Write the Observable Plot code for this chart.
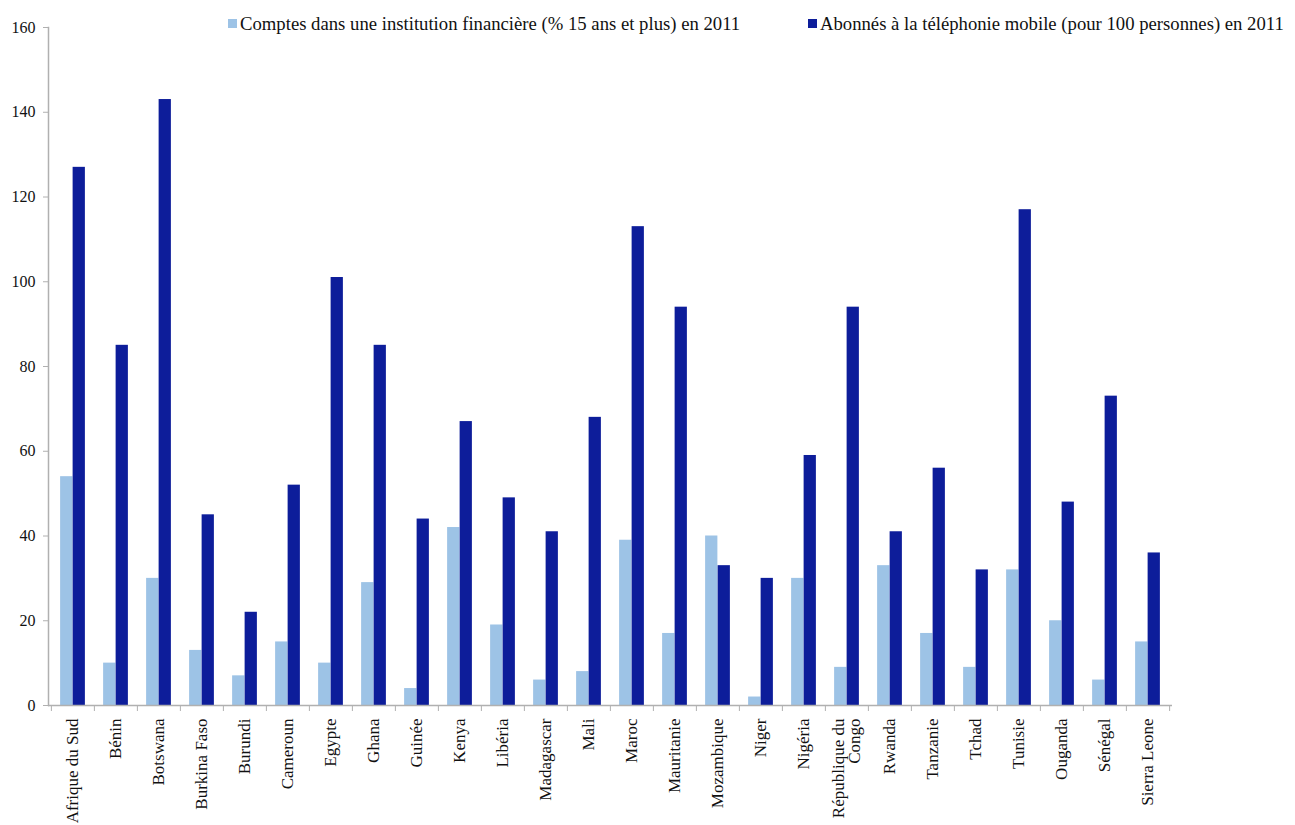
<!DOCTYPE html>
<html><head><meta charset="utf-8">
<script src="https://cdn.jsdelivr.net/npm/d3@7"></script>
<script src="https://cdn.jsdelivr.net/npm/@observablehq/plot@0.6"></script>
<style>
body{margin:0;background:#fff;font-family:"Liberation Serif","Times New Roman","DejaVu Serif",serif;}
#wrap{position:relative;width:1295px;height:825px;overflow:hidden;}
#legend{position:absolute;top:13px;left:0;width:1295px;height:24px;font-size:18.7px;color:#111;}
.li{position:absolute;top:0;white-space:nowrap;}
.sw{display:inline-block;width:9px;height:9px;margin-right:3px;vertical-align:2px;}
</style></head>
<body><div id="wrap"><div id="legend"></div><div id="chart"></div></div>
<script>
const countries = ["Afrique du Sud","Bénin","Botswana","Burkina Faso","Burundi","Cameroun","Egypte","Ghana","Guinée","Kenya","Libéria","Madagascar","Mali","Maroc","Mauritanie","Mozambique","Niger","Nigéria","République du\nCongo","Rwanda","Tanzanie","Tchad","Tunisie","Ouganda","Sénégal","Sierra Leone"];
const comptes = [54,10,30,13,7,15,10,29,4,42,19,6,8,39,17,40,2,30,9,33,17,9,32,20,6,15];
const mobile = [127,85,143,45,22,52,101,85,44,67,49,41,68,113,94,33,30,59,94,41,56,32,117,48,73,36];
const seriesNames = ["Comptes dans une institution financière (% 15 ans et plus) en 2011","Abonnés à la téléphonie mobile (pour 100 personnes) en 2011"];
const colors = ["#9dc3e6","#0d1d9a"];
const yTicks = [0,20,40,60,80,100,120,140,160];

const W = 1295, ML = 48, MR = 123, MT = 27, MB = 120, H = 825;
const bw = (W - ML - MR) / countries.length;
const barW = 12.5;
const data = countries.map((c,i)=>({country:c, comptes:comptes[i], mobile:mobile[i]}));

const chart = Plot.plot({
  width: W, height: H,
  marginLeft: ML, marginRight: MR, marginTop: MT, marginBottom: MB,
  style: {fontFamily: '"Liberation Serif","Times New Roman","DejaVu Serif",serif', fontSize: "15px", color: "#111", background: "#fff"},
  x: {domain: countries, padding: 0, label: null},
  y: {domain: [0,160], label: null},
  marks: [
    Plot.frame({anchor: "left", stroke: "#b0b0b0", strokeWidth: 1.5}),
    Plot.barY(data, {x: "country", y: "comptes", fill: colors[0], insetLeft: bw/2 - barW, insetRight: bw/2}),
    Plot.barY(data, {x: "country", y: "mobile", fill: colors[1], insetLeft: bw/2, insetRight: bw/2 - barW}),
    Plot.ruleY([0], {stroke: "#b0b0b0", strokeWidth: 1.5}),
    Plot.axisY({ticks: yTicks, tickSize: 5, tickPadding: 8, stroke: "#b0b0b0", fontSize: 16, label: null}),
    Plot.axisX({tickSize: 6, tickFormat: null, stroke: "#b0b0b0", dx: -bw/2, label: null}),
    Plot.axisX({ticks: [countries[countries.length-1]], tickSize: 6, tickFormat: null, stroke: "#b0b0b0", dx: bw/2, label: null}),
    Plot.axisX({tickSize: 0, tickPadding: 13, tickRotate: -90, fontSize: 17, label: null, lineHeight: 0.95})
  ]
});
document.getElementById("chart").appendChild(chart);

const legend = document.getElementById("legend");
const lx = [228, 808];
seriesNames.forEach((n,i)=>{
  const d = document.createElement("div");
  d.className = "li"; d.style.left = lx[i] + "px";
  d.innerHTML = `<span class="sw" style="background:${colors[i]}"></span>` + n;
  legend.appendChild(d);
});
</script></body></html>
